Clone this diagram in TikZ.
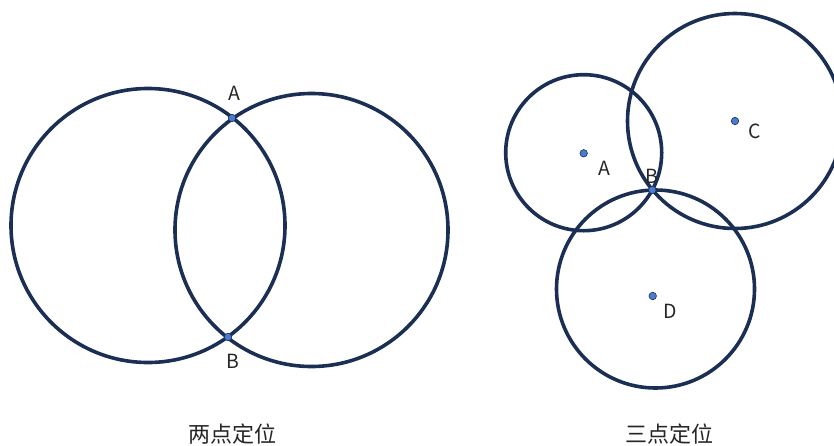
\documentclass[tikz,border=0pt]{standalone}
\usepackage{fontspec}
\newfontfamily\cjk{Noto Sans CJK SC}
\begin{document}
\begin{tikzpicture}[x=1pt,y=-1pt,
  ring/.style={draw=ringcol,line width=3.6pt},
  pt/.style={circle,fill=dotcol,draw=ringcol,line width=0.6pt,inner sep=0pt,minimum size=7.5pt},
  lab/.style={font=\cjk\fontsize{19.5}{19.5}\selectfont,text=black!85,inner sep=0pt},
  titletext/.style={font=\cjk\fontsize{22}{22}\selectfont,text=black!85,inner sep=0pt}]
\definecolor{ringcol}{HTML}{1B2F55}
\definecolor{dotcol}{HTML}{4A7BD0}
\useasboundingbox (0,0) rectangle (834,445);
\begin{scope}
\clip (0,0) rectangle (834,445);
% left figure
\draw[ring] (148,225.5) circle (137);
\draw[ring] (311.5,230) circle (136.5);
% right figure
\draw[ring] (583.7,152.7) circle (78);
\draw[ring] (735,121) circle (107.5);
\draw[ring] (655.5,289) circle (99);
\end{scope}
\node[pt] (pA) at (232,118) {};
\node[pt] (pB) at (228,337) {};
\node[lab] (lA) at (234,93) {A};
\node[lab] (lB) at (233,361) {B};
\node[pt] (qA) at (583.7,153.3) {};
\node[pt] (qB) at (652.3,190) {};
\node[pt] (qC) at (735,121) {};
\node[pt] (qD) at (652.7,296) {};
\node[lab] (mA) at (604.3,168.3) {A};
\node[lab] (mB) at (651.7,176.7) {B};
\node[lab] (mC) at (755,131.7) {C};
\node[lab] (mD) at (670,311.7) {D};
\node[titletext] (t1) at (232,434) {两点定位};
\node[titletext] (t2) at (669,434) {三点定位};
\end{tikzpicture}
\end{document}
